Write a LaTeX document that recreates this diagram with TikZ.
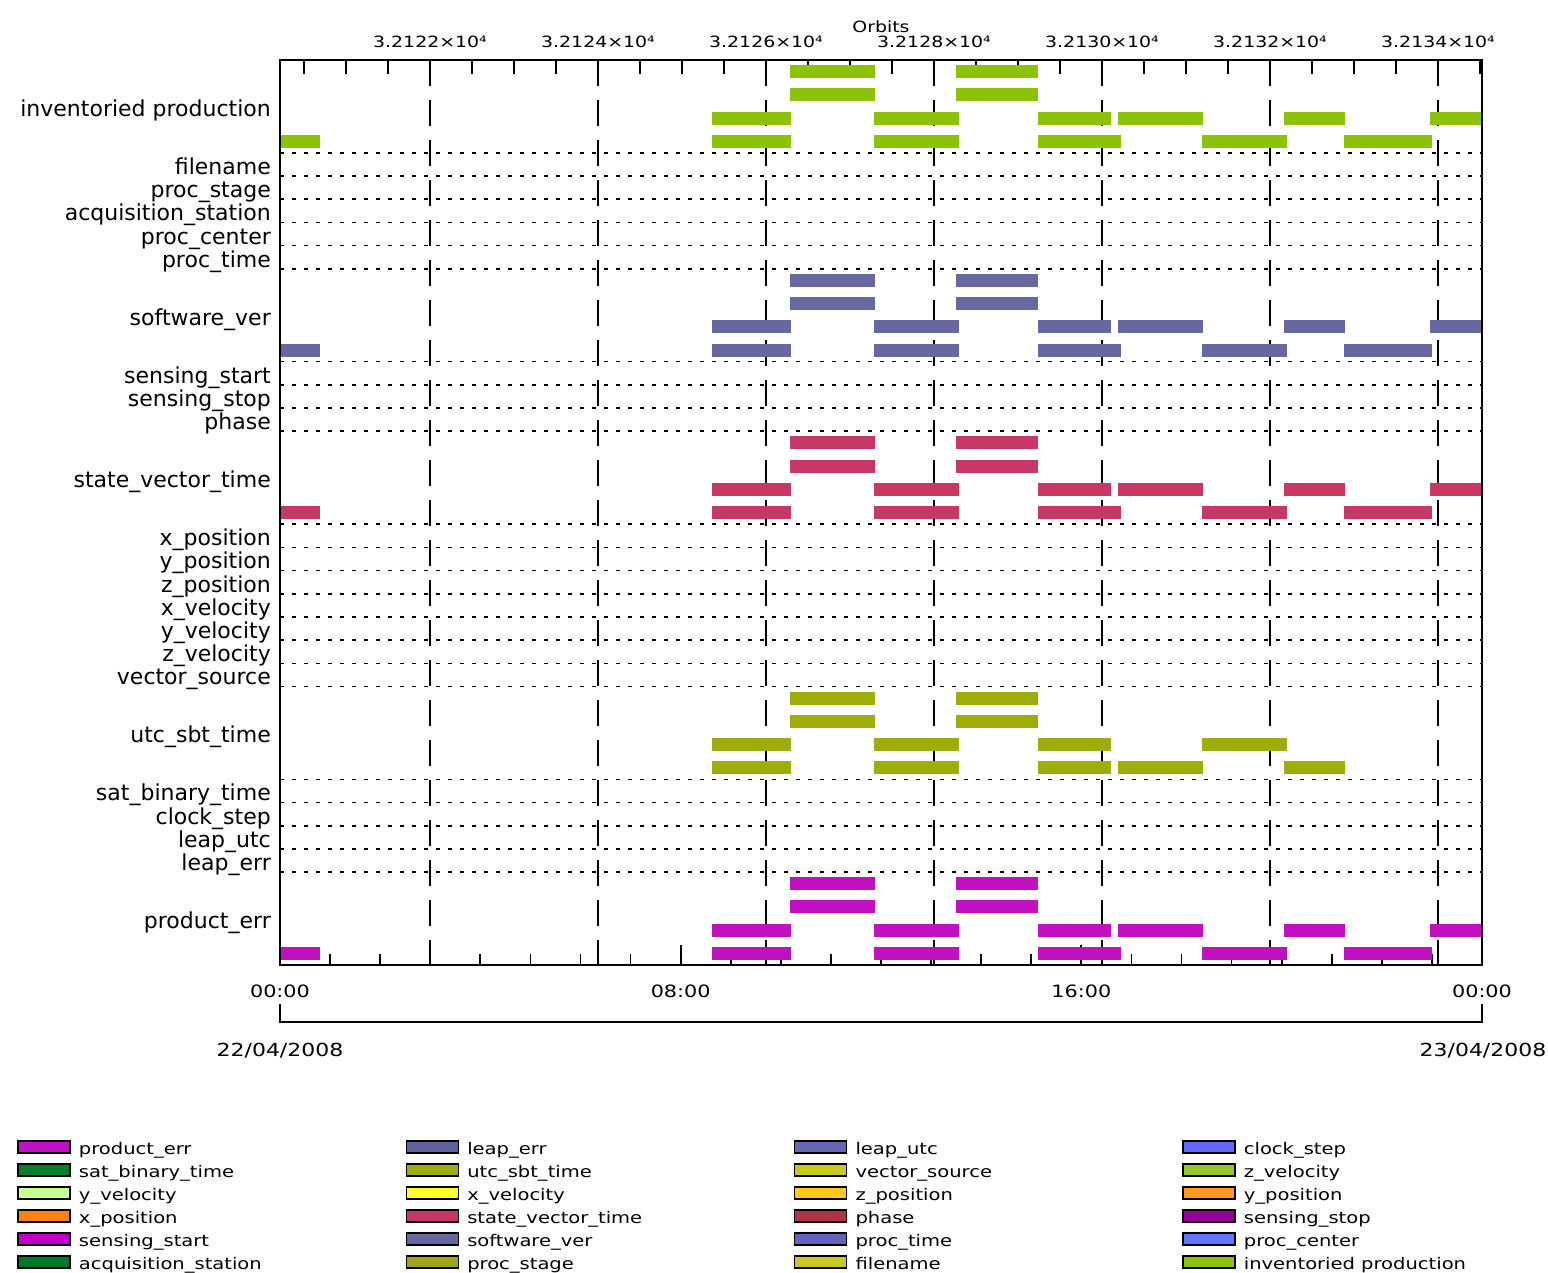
\documentclass[tikz,border=0pt]{standalone}
\usepackage{fontspec}
\setmainfont{DejaVu Sans}
\newfontfamily\widefont{DejaVu Sans}[FakeStretch=1.22]
\usetikzlibrary{positioning}

\definecolor{invgreen}{HTML}{8CC30A}
\definecolor{softblue}{HTML}{6868A0}
\definecolor{svtred}{HTML}{C83864}
\definecolor{utcolive}{HTML}{9EAC0C}
\definecolor{errmag}{HTML}{C010C0}
\definecolor{satgreen}{HTML}{00802A}
\definecolor{yvelgreen}{HTML}{C8FF96}
\definecolor{xposorange}{HTML}{FF8214}
\definecolor{sensstart}{HTML}{C000C8}
\definecolor{acqgreen}{HTML}{00782A}
\definecolor{leaperr}{HTML}{60609C}
\definecolor{xvelyellow}{HTML}{FFFF28}
\definecolor{procstage}{HTML}{A0A41C}
\definecolor{leaputc}{HTML}{6468B4}
\definecolor{vecsource}{HTML}{C8C81E}
\definecolor{zposgold}{HTML}{FFC81E}
\definecolor{phasered}{HTML}{B43246}
\definecolor{proctime}{HTML}{6464BE}
\definecolor{fileyellow}{HTML}{C8C81E}
\definecolor{clockblue}{HTML}{6464FF}
\definecolor{zvelgreen}{HTML}{94C828}
\definecolor{yposorange}{HTML}{FF9A1E}
\definecolor{sensstop}{HTML}{960096}
\definecolor{proccenter}{HTML}{6478FF}

\def\unit{23.205}
\def\laneA{790/875, 956/1038}
\def\laneC{712/791, 874/959, 1038/1111, 1118/1203, 1284/1345, 1430/1482}
\def\laneD{280/320, 712/791, 874/959, 1038/1121, 1202/1287, 1344/1432}
\def\utcC{712/791, 874/959, 1038/1111, 1202/1287}
\def\utcD{712/791, 874/959, 1038/1111, 1118/1203, 1284/1345}
\newcommand\runbar[4]{\fill[#1] (#3,{60+\unit*(#2-0.5)-6.5}) rectangle (#4,{60+\unit*(#2-0.5)+6.5});}

\begin{document}
\begin{tikzpicture}[
       x=1pt, y=-1pt,
       rowlabel/.style={anchor=base east, inner sep=0pt, font=\fontsize{22}{24}\selectfont},
       axistext/.style={anchor=base, inner sep=0pt, font=\widefont\fontsize{15.5}{17}\selectfont},
       timetext/.style={anchor=base, inner sep=0pt, font=\widefont\fontsize{17}{19}\selectfont},
       datetext/.style={anchor=base, inner sep=0pt, font=\widefont\fontsize{18}{20}\selectfont},
       legtext/.style={inner sep=0pt, text height=18pt, text depth=4pt, font=\widefont\fontsize{16}{18}\selectfont},
       swatch/.style={draw=black, line width=1.5pt, minimum width=52pt, minimum height=12pt, inner sep=0pt},
       gridline/.style={line width=1.6pt, dash pattern=on 3.5pt off 8.5pt},
       orbitline/.style={line width=1.8pt, dash pattern=on 26pt off 14pt},
       tickmark/.style={line width=1.8pt},
       plotframe/.style={line width=2pt},
       ]
  \useasboundingbox (0,0) rectangle (1548,1273);

  \foreach \txt/\s/\u [count=\i] in {inventoried production/0/4, filename/4/1, proc\_stage/5/1,
      acquisition\_station/6/1, proc\_center/7/1, proc\_time/8/1, software\_ver/9/4,
      sensing\_start/13/1, sensing\_stop/14/1, phase/15/1, state\_vector\_time/16/4,
      x\_position/20/1, y\_position/21/1, z\_position/22/1, x\_velocity/23/1, y\_velocity/24/1,
      z\_velocity/25/1, vector\_source/26/1, utc\_sbt\_time/27/4, sat\_binary\_time/31/1,
      clock\_step/32/1, leap\_utc/33/1, leap\_err/34/1, product\_err/35/4} {
    \node (lbl\i) [rowlabel] at (271, {60+\unit*(\s+\u/2)+10}) {\txt};
    \ifnum\i<24 \draw[gridline] (280, {60+\unit*(\s+\u)}) -- (1482, {60+\unit*(\s+\u)}); \fi
  }

  \foreach \k in {0,...,6} {
    \draw[orbitline] ({430+168*\k},60) -- ({430+168*\k},965);
    \node (orb\k) [axistext] at ({430+168*\k},48) {3.21\the\numexpr22+2*\k\relax×10⁴};
  }
  \node (orbits) [axistext] at (881,33) {Orbits};
  \foreach \t in {304,346,...,1480} \draw[tickmark] (\t,60) -- (\t,74);
  \foreach \h in {1,...,23} \draw[tickmark] ({280+50.083*\h},965) -- ({280+50.083*\h},954);
  \foreach \h in {8,16} \draw[tickmark] ({280+50.083*\h},965) -- ({280+50.083*\h},945);

  \foreach \clr/\t in {invgreen/0, softblue/9, svtred/16, errmag/35} {
    \foreach \a/\b in \laneA {\runbar{\clr}{\t+1}{\a}{\b}\runbar{\clr}{\t+2}{\a}{\b}}
    \foreach \a/\b in \laneC {\runbar{\clr}{\t+3}{\a}{\b}}
    \foreach \a/\b in \laneD {\runbar{\clr}{\t+4}{\a}{\b}}
  }
  \foreach \a/\b in \laneA {\runbar{utcolive}{28}{\a}{\b}\runbar{utcolive}{29}{\a}{\b}}
  \foreach \a/\b in \utcC {\runbar{utcolive}{30}{\a}{\b}}
  \foreach \a/\b in \utcD {\runbar{utcolive}{31}{\a}{\b}}

  \draw[plotframe] (280,60) rectangle (1482,965);

  \foreach \h/\lab [count=\i] in {0/00:00, 8/08:00, 16/16:00, 24/00:00}
    \node (hr\i) [timetext] at ({280+50.083*\h},997) {\lab};
  \draw[plotframe] (280,1004) -- (280,1022) -- (1482,1022) -- (1482,1004);
  \node (day1) [datetext] at (280,1056) {22/04/2008};
  \node (day2) [datetext] at (1483,1056) {23/04/2008};

  \foreach \clr/\txt [count=\i from 0] in {errmag/product\_err, satgreen/sat\_binary\_time,
      yvelgreen/y\_velocity, xposorange/x\_position, sensstart/sensing\_start,
      acqgreen/acquisition\_station, leaperr/leap\_err, utcolive/utc\_sbt\_time,
      xvelyellow/x\_velocity, svtred/state\_vector\_time, softblue/software\_ver,
      procstage/proc\_stage, leaputc/leap\_utc, vecsource/vector\_source, zposgold/z\_position,
      phasered/phase, proctime/proc\_time, fileyellow/filename, clockblue/clock\_step,
      zvelgreen/z\_velocity, yposorange/y\_position, sensstop/sensing\_stop,
      proccenter/proc\_center, invgreen/inventoried production} {
    \pgfmathtruncatemacro\col{\i/6}
    \pgfmathtruncatemacro\row{mod(\i,6)}
    \node (sw\i) [swatch, fill=\clr] at ({44+388.3*\col}, {1147+23*\row}) {};
    \node (lg\i) [legtext, right=8pt of sw\i] {\txt};
  }
\end{tikzpicture}
\end{document}
